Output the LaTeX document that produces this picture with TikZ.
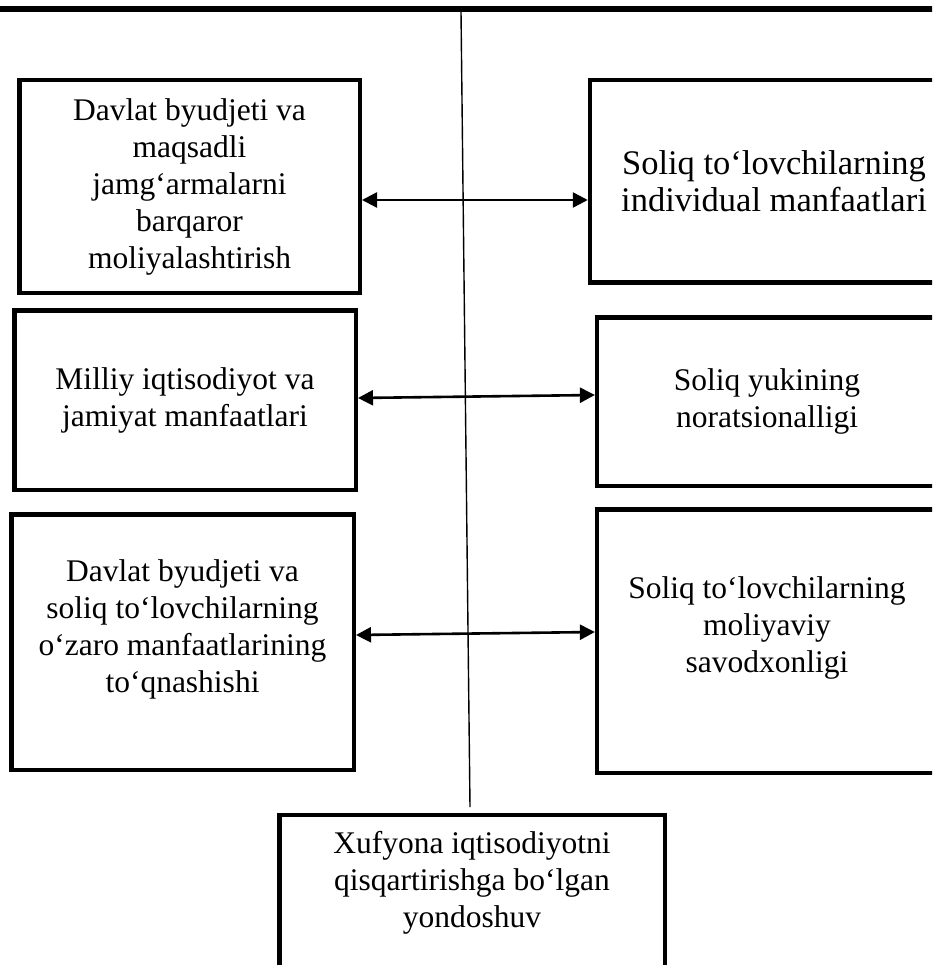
\documentclass[tikz,border=0pt]{standalone}
\usepackage{fontspec}
\setmainfont{Liberation Serif}
\usetikzlibrary{arrows.meta}
\tikzset{
	box/.style={draw, rectangle, line width=4.5pt, inner sep=0pt, align=center, font=\fontsize{31.5}{37}\selectfont},
	link/.style={line width=2.6pt, {Triangle[length=15pt,width=15pt]}-{Triangle[length=15pt,width=15pt]}},
}
\newcommand{\lowr}[1]{\rule[-#1]{0pt}{0pt}}

\begin{document}
\begin{tikzpicture}[x=1pt,y=1pt,yscale=-1,xscale=1]
			\useasboundingbox (0,0) rectangle (932,965);
			\clip (0,0) rectangle (932,965);
			\draw[line width=6pt] (-10,9) -- (945,9);
			
			\node[box, minimum width=340.5pt, minimum height=212.5pt] (b1) at (189.5,186.5) {Davlat byudjeti va\\ maqsadli\\ jamg‘armalarni\\ barqaror\\ moliyalashtirish};
			\node[box, minimum width=368pt, minimum height=202.5pt, font=\fontsize{34.5}{37}\selectfont] (b2) at (774,181.5) {Soliq to‘lovchilarning\\ individual manfaatlari};
			\node[box, minimum width=341.5pt, minimum height=179.5pt] (b3) at (185,400) {Milliy iqtisodiyot va\\ jamiyat manfaatlari};
			\node[box, minimum width=339.75pt, minimum height=168.5pt] (b4) at (767,401.5) {Soliq yukining\\ noratsionalligi};
			\node[box, minimum width=342.5pt, minimum height=255.5pt] (b5) at (182.5,642) {Davlat byudjeti va\\ soliq to‘lovchilarning\\ o‘zaro manfaatlarining\\ to‘qnashishi\lowr{31pt}};
			\node[box, minimum width=339.75pt, minimum height=263.5pt] (b6) at (767,641) {Soliq to‘lovchilarning\\ moliyaviy\\ savodxonligi\lowr{33pt}};
			\node[box, minimum width=385.5pt, minimum height=184.75pt] (b7) at (472,907.6) {Xufyona iqtisodiyotni\\ qisqartirishga bo‘lgan\\ yondoshuv\lowr{56pt}};
			
			\coordinate (axtop) at (461,12);
			\coordinate (axbot) at (470,807);
			\draw[line width=1.4pt] (axtop) -- (axbot);
			
			\draw[link] (b1.east |- 0,200) -- (b2.west |- 0,200);
			\draw[link] (b3.east |- 0,398) -- (b4.west |- 0,395);
			\draw[link] (b5.east |- 0,635) -- (b6.west |- 0,632);
\end{tikzpicture}
\end{document}
